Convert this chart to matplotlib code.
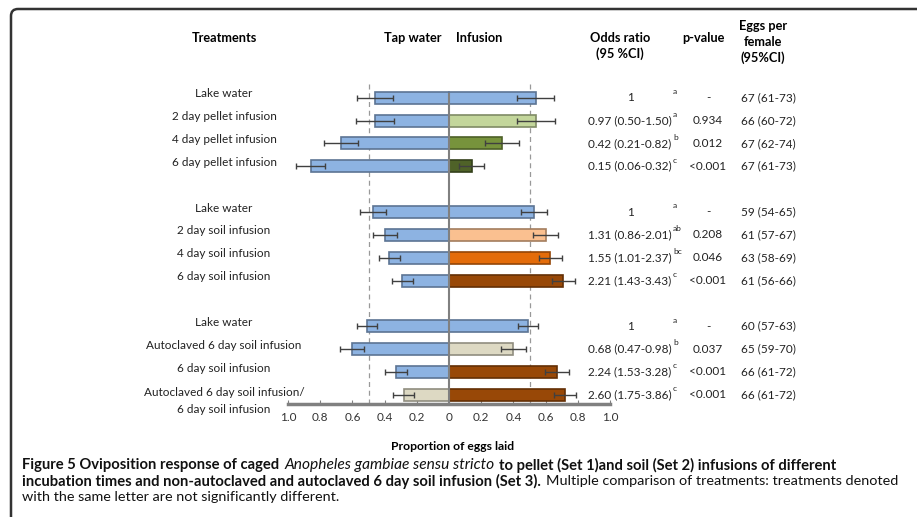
import numpy as np
import matplotlib
matplotlib.use("Agg")
import matplotlib.pyplot as plt
from matplotlib.transforms import blended_transform_factory
from matplotlib.patches import FancyBboxPatch

plt.rcParams['font.family'] = ['Lato', 'DejaVu Sans']

# Data
behandlinger = ["Lake water", "2 day pellet infusion", "4 day pellet infusion", "6 day pellet infusion",
                "Lake water", "2 day soil infusion", "4 day soil infusion", "6 day soil infusion",
                "Lake water", "Autoclaved 6 day soil infusion", "6 day soil infusion",
                "Autoclaved 6 day soil infusion/\n6 day soil infusion"]
rader = [0, 1, 2, 3, 5, 6, 7, 8, 10, 11, 12, 13]
springvann = [0.46, 0.46, 0.67, 0.86, 0.47, 0.40, 0.37, 0.29, 0.51, 0.60, 0.33, 0.28]
springvann_feil = [0.11, 0.12, 0.105, 0.09, 0.08, 0.075, 0.065, 0.065, 0.06, 0.075, 0.07, 0.065]
infusjon = [0.54, 0.54, 0.33, 0.14, 0.53, 0.60, 0.63, 0.71, 0.49, 0.40, 0.67, 0.72]
infusjon_feil = [0.115, 0.12, 0.105, 0.08, 0.08, 0.08, 0.07, 0.07, 0.06, 0.08, 0.075, 0.07]
odds = ["1", "0.97 (0.50-1.50)", "0.42 (0.21-0.82)", "0.15 (0.06-0.32)",
        "1", "1.31 (0.86-2.01)", "1.55 (1.01-2.37)", "2.21 (1.43-3.43)",
        "1", "0.68 (0.47-0.98)", "2.24 (1.53-3.28)", "2.60 (1.75-3.86)"]
bokstaver = ["a", "a", "b", "c", "a", "ab", "bc", "c", "a", "b", "c", "c"]
p_verdier = ["-", "0.934", "0.012", "<0.001", "-", "0.208", "0.046", "<0.001",
             "-", "0.037", "<0.001", "<0.001"]
egg = ["67 (61-73)", "66 (60-72)", "67 (62-74)", "67 (61-73)",
       "59 (54-65)", "61 (57-67)", "63 (58-69)", "61 (56-66)",
       "60 (57-63)", "65 (59-70)", "66 (61-72)", "66 (61-72)"]

blaa = "#8db3e2"
farger_tap = [blaa] * 11 + ["#ddd9c3"]
farger_inf = [blaa, "#c3d69b", "#77933c", "#4f6228",
              blaa, "#fac090", "#e46c0a", "#984807",
              blaa, "#ddd9c3", "#984807", "#984807"]

W, H = 917, 517
FS = 8.5      # tekst i tabellen
FS_HODE = 9.2  # overskrifter
fig = plt.figure(figsize=(W / 100, H / 100), dpi=100)
ax = fig.add_axes([288 / W, (H - 404) / H, 322 / W, 320 / H])

def mork(c, f=0.65):
    rgb = np.array(matplotlib.colors.to_rgb(c))
    return tuple(rgb * f)

# Stolper
for y, v, e, c in zip(rader, springvann, springvann_feil, farger_tap):
    ax.barh(y, -v, height=0.52, color=c, edgecolor=mork(c), linewidth=1.2, zorder=3)
    ax.errorbar(-v, y, xerr=e, color="#404040", lw=1, capsize=2, capthick=1, zorder=4)
for y, v, e, c in zip(rader, infusjon, infusjon_feil, farger_inf):
    ax.barh(y, v, height=0.52, color=c, edgecolor=mork(c), linewidth=1.2, zorder=3)
    ax.errorbar(v, y, xerr=e, color="#404040", lw=1, capsize=2, capthick=1, zorder=4)

ax.axvline(0, color="#808080", lw=1.5, ymin=0, ymax=0.97, zorder=5)
for xv in (-0.5, 0.5):
    ax.axvline(xv, color="#999999", lw=0.9, ls=(0, (4, 3)), ymin=0, ymax=1, zorder=1)

ax.set_xlim(-1, 1)
ax.set_ylim(13.4, -0.6)
ax.set_yticks([])
xt = np.arange(-1.0, 1.01, 0.2)
ax.set_xticks(xt)
ax.set_xticklabels(["0" if abs(t) < 1e-9 else f"{abs(t):.1f}" for t in xt],
                   fontsize=FS, color="#333333")
ax.tick_params(axis="x", direction="in", length=3, color="#808080", pad=6)
for s in ("top", "left", "right"):
    ax.spines[s].set_visible(False)
ax.spines["bottom"].set_color("#808080")
ax.spines["bottom"].set_linewidth(2.5)
ax.patch.set_alpha(0)

fig.text(453 / W, 1 - 447 / H, "Proportion of eggs laid", ha="center", va="center",
         fontsize=8.7, fontweight="bold")

# Tabell / etiketter
tr = blended_transform_factory(fig.transFigure, ax.transData)
for navn, y in zip(behandlinger, rader):
    if "\n" in navn:
        l1, l2 = navn.split("\n")
        ax.text(224 / W, y - 0.1, l1, transform=tr, ha="center", va="center", fontsize=FS, color="#222222")
        ax.text(224 / W, y + 0.65, l2, transform=tr, ha="center", va="center", fontsize=FS, color="#222222")
    else:
        ax.text(224 / W, y - 0.17, navn, transform=tr, ha="center", va="center", fontsize=FS, color="#222222")
for y, o, b, p, e in zip(rader, odds, bokstaver, p_verdier, egg):
    ax.text(630 / W, y, o, transform=tr, ha="center", va="center", fontsize=FS, color="#222222")
    ax.text(673 / W, y - 0.27, b, transform=tr, ha="left", va="center", fontsize=6, color="#222222")
    ax.text(708 / W, y, p, transform=tr, ha="center", va="center", fontsize=FS, color="#222222")
    ax.text(741 / W, y, e, transform=tr, ha="left", va="center", fontsize=FS, color="#222222")

# Overskrifter
def overskrift(x, y, s):
    fig.text(x / W, 1 - y / H, s, ha="center", va="center", fontsize=FS_HODE, fontweight="bold",
             linespacing=1.4)
overskrift(224, 38, "Treatments")
overskrift(413, 38, "Tap water")
overskrift(479, 38, "Infusion")
overskrift(620, 46, "Odds ratio\n(95 %CI)")
overskrift(703, 38, "p-value")
overskrift(763, 42, "Eggs per\nfemale\n(95%CI)")

# Ramme
ramme = FancyBboxPatch((0.11, -1), 12, 5.08 + 1, boxstyle="round,pad=0,rounding_size=0.07",
                       transform=fig.dpi_scale_trans, fill=False, edgecolor="#333333", lw=1.8)
fig.patches.append(ramme)

# Figurtekst
renderer = fig.canvas.get_renderer()
storrelse = {"b": 10.6, "i": 11.2, "n": 10.35}

def skriv_linje(y, biter):
    x = 22 / W
    for tekst, stil in biter:
        kw = {"fontweight": "bold"} if stil == "b" else ({"fontstyle": "italic"} if stil == "i" else {})
        t = fig.text(x, 1 - y / H, tekst, ha="left", va="center", fontsize=storrelse[stil],
                     color="#111111", **kw)
        bb = t.get_window_extent(renderer)
        x += (bb.width + 5) / W

skriv_linje(465, [("Figure 5 Oviposition response of caged", "b"),
                  ("Anopheles gambiae sensu stricto", "i"),
                  ("to pellet (Set 1)and soil (Set 2) infusions of different", "b")])
skriv_linje(481, [("incubation times and non-autoclaved and autoclaved 6 day soil infusion (Set 3).", "b"),
                  ("Multiple comparison of treatments: treatments denoted", "n")])
skriv_linje(497, [("with the same letter are not significantly different.", "n")])

fig.savefig("out.png", dpi=100)
